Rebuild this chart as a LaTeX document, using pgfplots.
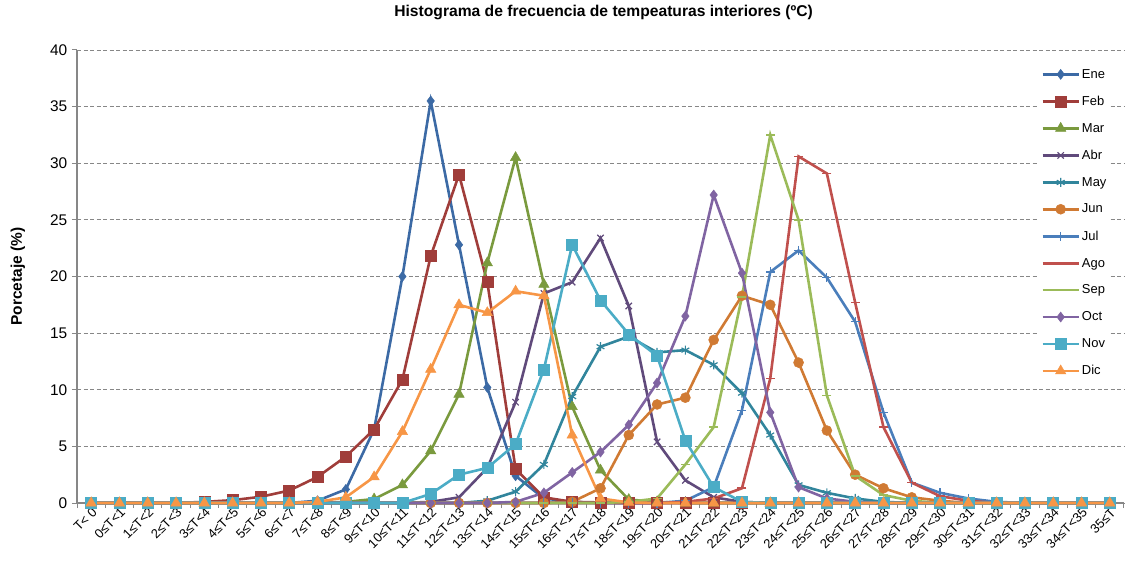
\documentclass[border=0pt]{standalone}
\usepackage{fontspec}
\setmainfont{Liberation Sans}
\usepackage{pgfplots}
\usepackage{pgfplotstable}
\pgfplotsset{compat=1.18}
\definecolor{cEne}{HTML}{3C6AA5}
\definecolor{cFeb}{HTML}{A03D3A}
\definecolor{cMar}{HTML}{7A9A3E}
\definecolor{cAbr}{HTML}{604A7B}
\definecolor{cMay}{HTML}{31859C}
\definecolor{cJun}{HTML}{D07A33}
\definecolor{cJul}{HTML}{4A7EBB}
\definecolor{cAgo}{HTML}{C0504D}
\definecolor{cSep}{HTML}{9BBB59}
\definecolor{cOct}{HTML}{8064A2}
\definecolor{cNov}{HTML}{4BACC6}
\definecolor{cDic}{HTML}{F79646}
\definecolor{gridgray}{HTML}{878787}
\pgfplotstableread{
x Ene Feb Mar Abr May Jun Jul Ago Sep Oct Nov Dic
0 0 0 0 0 0 0 0 0 0 0 0 0
1 0 0 0 0 0 0 0 0 0 0 0 0
2 0 0 0 0 0 0 0 0 0 0 0 0
3 0 0 0 0 0 0 0 0 0 0 0 0
4 0 0.1 0 0 0 0 0 0 0 0 0 0
5 0 0.25 0 0 0 0 0 0 0 0 0 0
6 0 0.55 0 0 0 0 0 0 0 0 0 0
7 0 1.1 0 0 0 0 0 0 0 0 0 0
8 0.2 2.3 0 0 0 0 0 0 0 0 0 0.1
9 1.2 4.1 0.1 0 0 0 0 0 0 0 0 0.5
10 6.5 6.5 0.35 0 0 0 0 0 0 0 0 2.3
11 20.0 10.9 1.6 0 0 0 0 0 0 0 0 6.3
12 35.5 21.8 4.6 0.1 0 0 0 0 0 0 0.8 11.8
13 22.8 29.0 9.6 0.5 0 0 0 0 0 0 2.5 17.5
14 10.2 19.5 21.2 3.1 0.2 0 0 0 0 0 3.1 16.8
15 2.4 3.0 30.5 8.9 1.0 0 0 0 0 0.1 5.2 18.7
16 0.4 0.5 19.3 18.5 3.4 0 0 0 0 0.9 11.8 18.3
17 0.1 0.1 8.5 19.5 9.4 0.1 0 0 0 2.7 22.8 6.0
18 0 0.05 2.9 23.4 13.8 1.3 0 0 0 4.5 17.9 0.4
19 0 0 0.3 17.4 14.7 6.0 0 0 0.1 6.9 14.9 0.05
20 0 0 0.1 5.4 13.3 8.7 0 0 0.4 10.6 13.0 0
21 0 0 0 2.0 13.5 9.3 0.2 0.1 3.4 16.5 5.5 0
22 0 0 0 0.5 12.2 14.4 1.4 0.4 6.7 27.2 1.4 0
23 0 0 0 0.1 9.7 18.3 8.2 1.3 18.2 20.3 0.1 0
24 0 0 0 0 6.0 17.5 20.4 11.0 32.5 8.0 0 0
25 0 0 0 0 1.6 12.4 22.3 30.6 25.0 1.4 0 0
26 0 0 0 0 0.9 6.4 19.9 29.1 9.5 0.4 0 0
27 0 0 0 0 0.4 2.5 16.0 17.7 2.4 0.1 0 0
28 0 0 0 0 0.1 1.3 8.0 6.7 0.7 0 0 0
29 0 0 0 0 0 0.5 1.8 1.8 0.2 0 0 0
30 0 0 0 0 0 0.2 0.9 0.6 0 0 0 0
31 0 0 0 0 0 0 0.4 0.2 0 0 0 0
32 0 0 0 0 0 0 0.1 0 0 0 0 0
33 0 0 0 0 0 0 0 0 0 0 0 0
34 0 0 0 0 0 0 0 0 0 0 0 0
35 0 0 0 0 0 0 0 0 0 0 0 0
36 0 0 0 0 0 0 0 0 0 0 0 0
}\datatable
\begin{document}
\begin{tikzpicture}
\path[use as bounding box] (0,0) rectangle (1126bp,570bp);
\begin{axis}[
  at={(77bp,67bp)}, anchor=south west,
  scale only axis, width=1047bp, height=453bp,
  xmin=-0.5, xmax=36.5, ymin=0, ymax=40,
  clip=false,
  axis lines*=left,
  axis line style={draw=gridgray, line width=1.1bp},
  ytick={0,5,...,40},
  xtick={0,...,36},
  xticklabels={T< 0,0≤T<1,1≤T<2,2≤T<3,3≤T<4,4≤T<5,5≤T<6,6≤T<7,7≤T<8,8≤T<9,9≤T<10,10≤T<11,11≤T<12,12≤T<13,13≤T<14,14≤T<15,15≤T<16,16≤T<17,17≤T<18,18≤T<19,19≤T<20,20≤T<21,21≤T<22,22≤T<23,23≤T<24,24≤T<25,25≤T<26,26≤T<27,27≤T<28,28≤T<29,29≤T<30,30≤T<31,31≤T<32,32≤T<33,33≤T<34,34≤T<35,35≤T},
  minor xtick={-0.5,0.5,...,36.5},
  tick align=outside,
  major tick length=5bp, minor tick length=5bp,
  major x tick style={draw=none},
  tick style={draw=gridgray, line width=1bp},
  minor tick style={draw=gridgray, line width=1bp},
  xticklabel style={rotate=45, anchor=east, font=\fontsize{13}{15}\selectfont, inner sep=1bp, yshift=-4bp, xshift=2bp},
  yticklabel style={font=\fontsize{15.5}{17}\selectfont, inner sep=4.5bp},
  /pgf/number format/assume math mode=true,
  ymajorgrids,
  grid style={draw=gridgray, line width=0.9bp, dash pattern=on 4bp off 2.5bp},
  title={Histograma de frecuencia de tempeaturas interiores (ºC)},
  title style={at={(axis description cs:0.503,1.0706)}, anchor=center, font=\bfseries\fontsize{15.7}{17}\selectfont},
  ylabel={Porcetaje (\%)},
  ylabel style={at={(axis description cs:-0.0564,0.5)}, anchor=center, font=\bfseries\fontsize{15.5}{17}\selectfont},
  legend style={at={(axis description cs:0.919,0.967)}, anchor=north west, draw=none, fill=white, font=\fontsize{13}{15}\selectfont, row sep=12.4bp, inner sep=2bp},
  legend cell align=left,
  legend image code/.code={\draw[mark repeat=2, mark phase=2] plot coordinates {(0bp,0bp) (18bp,0bp) (36bp,0bp)};},
  every axis plot/.append style={line width=2.6bp},
]
\addplot[color=cEne, mark=diamond*, mark size=5bp, mark options={solid, line width=0.5bp}] table[x=x, y=Ene] {\datatable};
\addlegendentry{Ene}
\addplot[color=cFeb, mark=square*, mark size=5.5bp, mark options={solid, line width=0.5bp}] table[x=x, y=Feb] {\datatable};
\addlegendentry{Feb}
\addplot[color=cMar, mark=triangle*, mark size=6bp, mark options={solid, line width=0.5bp}] table[x=x, y=Mar] {\datatable};
\addlegendentry{Mar}
\addplot[color=cAbr, mark=x, mark size=4.5bp, mark options={solid, line width=1.2bp}] table[x=x, y=Abr] {\datatable};
\addlegendentry{Abr}
\addplot[color=cMay, mark=asterisk, mark size=4.5bp, mark options={solid, line width=1.2bp}] table[x=x, y=May] {\datatable};
\addlegendentry{May}
\addplot[color=cJun, mark=*, mark size=5bp, mark options={solid, line width=0.5bp}] table[x=x, y=Jun] {\datatable};
\addlegendentry{Jun}
\addplot[color=cJul, mark=+, mark size=4.5bp, mark options={solid, line width=1.2bp}] table[x=x, y=Jul] {\datatable};
\addlegendentry{Jul}
\addplot[color=cAgo, mark=-, mark size=4.5bp, mark options={solid, line width=1.6bp}] table[x=x, y=Ago] {\datatable};
\addlegendentry{Ago}
\addplot[color=cSep, mark=-, mark size=4.5bp, mark options={solid, line width=1.6bp}] table[x=x, y=Sep] {\datatable};
\addlegendentry{Sep}
\addplot[color=cOct, mark=diamond*, mark size=5bp, mark options={solid, line width=0.5bp}] table[x=x, y=Oct] {\datatable};
\addlegendentry{Oct}
\addplot[color=cNov, mark=square*, mark size=5.5bp, mark options={solid, line width=0.5bp}] table[x=x, y=Nov] {\datatable};
\addlegendentry{Nov}
\addplot[color=cDic, mark=triangle*, mark size=6bp, mark options={solid, line width=0.5bp}] table[x=x, y=Dic] {\datatable};
\addlegendentry{Dic}
\end{axis}
\end{tikzpicture}
\end{document}
